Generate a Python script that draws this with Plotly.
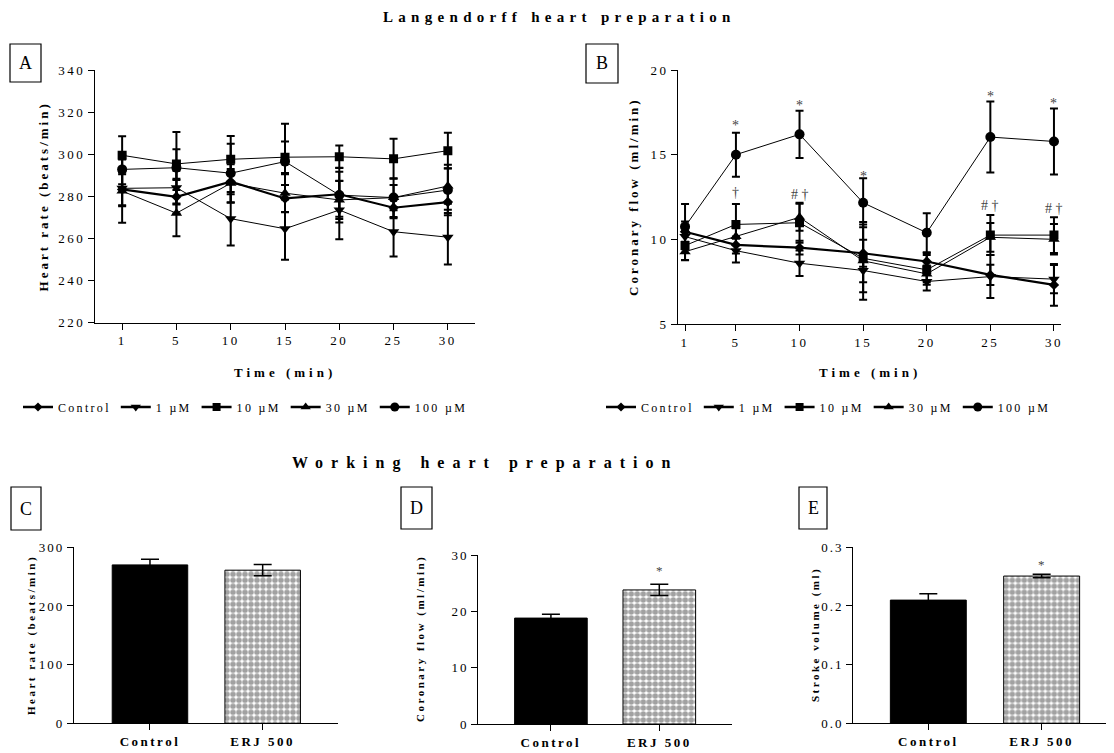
import plotly.graph_objects as go

# The page body has an 8 px margin, so the figure is 8 px smaller than the window
OFF = 8
W, H = 1114 - OFF, 753 - OFF
FONT = "Liberation Serif"

# ---------------- data ----------------
time_labels = ['1', '5', '10', '15', '20', '25', '30']
time_vals = [1, 5, 10, 15, 20, 25, 30]
series_names = ['Control', '1 µM', '10 µM', '30 µM', '100 µM']

# Panel A: heart rate (beats/min)
hr_control = [283.3, 279.8, 287.0, 279.0, 281.0, 274.6, 277.3]
hr_1uM = [283.8, 284.1, 269.4, 264.6, 273.5, 263.2, 260.6]
hr_10uM = [299.5, 295.4, 297.6, 298.6, 298.8, 297.8, 301.7]
hr_30uM = [282.5, 272.0, 286.2, 281.5, 278.3, 279.4, 284.9]
hr_100uM = [292.8, 293.6, 291.0, 296.5, 280.6, 279.4, 283.0]
hr_control_sem = [8, 8, 6, 6.4, 10.7, 5, 5.2]
hr_1uM_sem = [8, 8, 12.7, 14.7, 13.9, 11.8, 13]
hr_10uM_sem = [9, 7, 11, 7.5, 5.3, 9.5, 8.5]
hr_30uM_sem = [15, 11, 9, 9, 9, 6, 8.4]
hr_100uM_sem = [7, 17, 14, 18, 13, 9.2, 12]

# Panel B: coronary flow (ml/min)
cf_control = [10.45, 9.67, 9.51, 9.18, 8.69, 7.9, 7.31]
cf_1uM = [10.16, 9.33, 8.59, 8.16, 7.51, 7.8, 7.65]
cf_10uM = [9.63, 10.88, 10.98, 8.88, 8.2, 10.25, 10.25]
cf_30uM = [9.27, 10.16, 11.3, 8.73, 7.96, 10.12, 10.0]
cf_100uM = [10.75, 15.0, 16.2, 12.16, 10.39, 16.04, 15.78]
cf_control_sem = [0.6, 0.5, 0.4, 0.8, 0.5, 0.6, 1.23]
cf_1uM_sem = [0.5, 0.7, 0.75, 0.7, 0.53, 1.27, 0.83]
cf_10uM_sem = [0.85, 1.2, 1.18, 2.0, 0.88, 1.18, 1.05]
cf_30uM_sem = [0.5, 0.5, 0.8, 2.3, 0.5, 0.85, 0.9]
cf_100uM_sem = [1.33, 1.3, 1.4, 1.45, 1.15, 2.1, 1.95]

# significance marks in panel B
star_times = [5, 10, 15, 25, 30]
star_levels = [16.75, 17.93, 13.7, 18.42, 18.0]
dag_times = [5, 10, 25, 30]
dag_levels = [12.74, 12.62, 11.97, 11.85]
dag_texts = ['†', '# †', '# †', '# †']

# Working heart panels
groups = ['Control', 'ERJ 500']
wh_hr = [270, 261]
wh_hr_sem = [9.5, 9.6]
wh_cf = [18.8, 23.8]
wh_cf_sem = [0.7, 1.0]
wh_sv = [0.210, 0.251]
wh_sv_sem = [0.011, 0.003]

hr_ticks = [220, 240, 260, 280, 300, 320, 340]
cf_ticks = [5, 10, 15, 20]


def sp(s, ls):
    return f'<span style="letter-spacing:{ls}px">{s}</span>'


def px(x):
    return (x - OFF) / W


def py(y):
    return 1 - (y - OFF) / H


symbols = ['diamond', 'triangle-down', 'square', 'triangle-up', 'circle']
msizes = [8, 10, 9, 10, 10]
lwidths = [2.2, 1, 1, 1, 1]

fig = go.Figure()

hr_series = [hr_control, hr_1uM, hr_10uM, hr_30uM, hr_100uM]
hr_sems = [hr_control_sem, hr_1uM_sem, hr_10uM_sem, hr_30uM_sem, hr_100uM_sem]
cf_series = [cf_control, cf_1uM, cf_10uM, cf_30uM, cf_100uM]
cf_sems = [cf_control_sem, cf_1uM_sem, cf_10uM_sem, cf_30uM_sem, cf_100uM_sem]

for i in range(5):
    fig.add_trace(go.Scatter(
        x=time_labels, y=hr_series[i], xaxis='x', yaxis='y',
        mode='lines+markers', showlegend=False,
        line=dict(color='black', width=lwidths[i]),
        marker=dict(symbol=symbols[i], size=msizes[i], color='black'),
        error_y=dict(type='data', array=hr_sems[i], color='black', thickness=2, width=4)))
for i in range(5):
    fig.add_trace(go.Scatter(
        x=time_vals, y=cf_series[i], xaxis='x2', yaxis='y2',
        mode='lines+markers', showlegend=False,
        line=dict(color='black', width=lwidths[i]),
        marker=dict(symbol=symbols[i], size=msizes[i], color='black'),
        error_y=dict(type='data', array=cf_sems[i], color='black', thickness=2, width=4)))

# legend-only entries
for lg, xa, ya in [('legend', 'x', 'y'), ('legend2', 'x2', 'y2')]:
    for i in range(5):
        fig.add_trace(go.Scatter(
            x=[None], y=[None], xaxis=xa, yaxis=ya, mode='lines+markers',
            name=sp(series_names[i], 2.3), legend=lg,
            line=dict(color='black', width=2.5),
            marker=dict(symbol=symbols[i], size=msizes[i] - 1, color='black')))

bar_kw = dict(
    marker=dict(color=['black', 'white'], line=dict(color='black', width=1),
                pattern=dict(shape=['', '.'], fgcolor='black', size=6, solidity=0.68)),
    width=0.67, showlegend=False)
fig.add_trace(go.Bar(x=groups, y=wh_hr, xaxis='x3', yaxis='y3',
                     error_y=dict(type='data', array=wh_hr_sem, color='black', thickness=1.5, width=9), **bar_kw))
fig.add_trace(go.Bar(x=groups, y=wh_cf, xaxis='x4', yaxis='y4',
                     error_y=dict(type='data', array=wh_cf_sem, color='black', thickness=1.5, width=9), **bar_kw))
fig.add_trace(go.Bar(x=groups, y=wh_sv, xaxis='x5', yaxis='y5',
                     error_y=dict(type='data', array=wh_sv_sem, color='black', thickness=1.5, width=9), **bar_kw))

axis_common = dict(showline=True, linecolor='black', linewidth=1.2, ticks='outside',
                   ticklen=6, tickwidth=1.2, tickcolor='black', showgrid=False,
                   zeroline=False, automargin=False,
                   tickfont=dict(family=FONT, size=13, color='black'))

fig.update_layout(
    width=W, height=H, autosize=False,
    margin=dict(l=0, r=0, t=0, b=0, pad=0, autoexpand=False),
    paper_bgcolor='white', plot_bgcolor='white',
    font=dict(family=FONT, color='black'),
    xaxis=dict(domain=[px(95), px(475)], anchor='y', type='category',
               categoryorder='array', categoryarray=time_labels,
               range=[-0.5, 6.5], tickvals=time_labels,
               ticktext=[sp(t, 2.5) for t in time_labels], **axis_common),
    yaxis=dict(domain=[py(322.7), py(70)], anchor='x', range=[220, 340],
               tickvals=hr_ticks, ticktext=[sp(t, 2.5) for t in hr_ticks], **axis_common),
    xaxis2=dict(domain=[px(678.3), px(1060.7)], anchor='y2', range=[0.47, 30.53],
                tickvals=time_vals, ticktext=[sp(t, 2.5) for t in time_labels], **axis_common),
    yaxis2=dict(domain=[py(324), py(70)], anchor='x2', range=[5, 20],
                tickvals=cf_ticks, ticktext=[sp(t, 2.5) for t in cf_ticks], **axis_common),
    xaxis3=dict(domain=[px(74), px(338.3)], anchor='y3', range=[-0.674, 1.671],
                tickvals=groups, ticktext=[sp(f'<b>{g}</b>', 2.5) for g in groups], **axis_common),
    yaxis3=dict(domain=[py(723.3), py(547.3)], anchor='x3', range=[0, 300],
                tickvals=[0, 100, 200, 300], ticktext=[sp(t, 2) for t in [0, 100, 200, 300]], **axis_common),
    xaxis4=dict(domain=[px(478.3), px(731.7)], anchor='y4', range=[-0.67, 1.668],
                tickvals=groups, ticktext=[sp(f'<b>{g}</b>', 2.5) for g in groups], **axis_common),
    yaxis4=dict(domain=[py(724), py(555)], anchor='x4', range=[0, 30],
                tickvals=[0, 10, 20, 30], ticktext=[sp(t, 2) for t in [0, 10, 20, 30]], **axis_common),
    xaxis5=dict(domain=[px(853.3), px(1109.3)], anchor='y5', range=[-0.662, 1.597],
                tickvals=groups, ticktext=[sp(f'<b>{g}</b>', 2.5) for g in groups], **axis_common),
    yaxis5=dict(domain=[py(723.3), py(547.3)], anchor='x5', range=[0, 0.3],
                tickvals=[0, 0.1, 0.2, 0.3], ticktext=[sp(t, 2) for t in ['0.0', '0.1', '0.2', '0.3']], **axis_common),
    legend=dict(orientation='h', x=px(18), y=py(407), xanchor='left', yanchor='middle',
                font=dict(family=FONT, size=12, color='black'), bgcolor='rgba(0,0,0,0)',
                itemwidth=30, tracegroupgap=0),
    legend2=dict(orientation='h', x=px(601), y=py(407), xanchor='left', yanchor='middle',
                 font=dict(family=FONT, size=12, color='black'), bgcolor='rgba(0,0,0,0)',
                 itemwidth=30, tracegroupgap=0),
)

ann = []


def txt(text, x, y, size, angle=0, xref='paper', yref='paper', color='black', xanchor='center'):
    ann.append(dict(text=text, x=x, y=y, xref=xref, yref=yref, showarrow=False,
                    textangle=angle, xanchor=xanchor, yanchor='middle',
                    font=dict(family=FONT, size=size, color=color)))


# main titles
txt(sp('<b>Langendorff heart preparation</b>', 5.3), px(559), py(17), 15)
txt(sp('<b>Working heart preparation</b>', 8), px(485), py(463), 16)

# axis titles
txt(sp('<b>Heart rate (beats/min)</b>', 3), px(43), py(196.4), 13, -90)
txt(sp('<b>Coronary flow (ml/min)</b>', 3), px(633), py(197), 13, -90)
txt(sp('<b>Time (min)</b>', 4), px(285), py(372), 13)
txt(sp('<b>Time (min)</b>', 4), px(869.5), py(372), 13)
txt(sp('<b>Heart rate (beats/min)</b>', 2.5), px(31), py(635), 11, -90)
txt(sp('<b>Coronary flow (ml/min)</b>', 2.5), px(420), py(639), 11, -90)
txt(sp('<b>Stroke volume (ml)</b>', 2.5), px(815), py(635), 11, -90)

# significance marks
for t, v in zip(star_times, star_levels):
    txt('*', t, v, 14, xref='x2', yref='y2', color='#444')
for t, v, s in zip(dag_times, dag_levels, dag_texts):
    txt(s, t, v, 14, xref='x2', yref='y2', color='#444')
txt('*', 'ERJ 500', 27.3, 13, xref='x4', yref='y4', color='#444')
txt('*', 'ERJ 500', 0.27, 13, xref='x5', yref='y5', color='#444')

# panel labels
shapes = []
for lab, x0, x1, y0, y1 in [('A', 10, 41, 44, 82), ('B', 586, 618, 44, 83),
                             ('C', 11, 41, 487, 530), ('D', 401, 432, 487, 529),
                             ('E', 799, 827, 487, 529)]:
    shapes.append(dict(type='rect', xref='paper', yref='paper', x0=px(x0), x1=px(x1),
                       y0=py(y1), y1=py(y0), line=dict(color='black', width=1.2)))
    txt(lab, px((x0 + x1) / 2), py((y0 + y1) / 2), 18)

fig.update_layout(annotations=ann, shapes=shapes)

fig.write_html("out.html")
